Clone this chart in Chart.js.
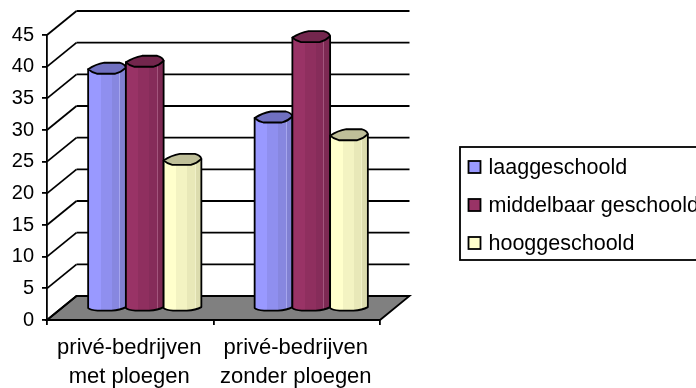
<!DOCTYPE html>
<html>
<head>
<meta charset="utf-8">
<style>
  html, body { margin: 0; padding: 0; background: #fff; overflow: hidden; }
  canvas { display: block; }
</style>
<script src="https://cdn.jsdelivr.net/npm/chart.js@4/dist/chart.umd.min.js"></script>
</head>
<body>
<canvas id="chart" width="696" height="388"></canvas>
<script>
const categories = [["privé-bedrijven", "met ploegen"], ["privé-bedrijven", "zonder ploegen"]];
const seriesNames = ["laaggeschoold", "middelbaar geschoold", "hooggeschoold"];
const laag = [37.7, 30];
const middelbaar = [38.8, 42.7];
const hoog = [23.3, 27.2];
const yMax = 45;
const yStep = 5;

// base, two shaded bands, highlight line, right edge, top cap
const shades = [
  ["#9999ff", "#8f8fef", "#8787e0", "#a6a6ee", "#8080d2", "#7070c0"],
  ["#993366", "#8f2f5f", "#862c5a", "#a3557d", "#7d2953", "#73264d"],
  ["#ffffcc", "#f3f3c2", "#e8e8b8", "#f0f0c8", "#dcdcae", "#bfbf99"],
];

const fontName = '"Liberation Sans", Arial, sans-serif';
const depthX = 29.5, depthY = 24;     // front plane to back wall
const midX = 14.5, midY = 12;         // front plane to the row of columns
const lineW = 1.8;

function line(ctx, x0, y0, x1, y1) {
  ctx.beginPath();
  ctx.moveTo(x0, y0);
  ctx.lineTo(x1, y1);
  ctx.stroke();
}

// back wall grid, side wall diagonals and grey floor
function drawWalls(chart) {
  const { ctx, scales: { x, y } } = chart;
  const left = x.left, right = x.right, floorY = y.getPixelForValue(0);
  ctx.save();
  ctx.strokeStyle = "#000";
  ctx.lineWidth = lineW;
  ctx.fillStyle = "#808080";
  ctx.beginPath();
  ctx.moveTo(left, floorY);
  ctx.lineTo(left + depthX, floorY - depthY);
  ctx.lineTo(right + depthX, floorY - depthY);
  ctx.lineTo(right, floorY);
  ctx.closePath();
  ctx.fill();
  ctx.stroke();
  y.ticks.forEach(t => {
    const py = y.getPixelForValue(t.value);
    line(ctx, left, py, left + depthX, py - depthY);
    line(ctx, left + depthX, py - depthY, right + depthX, py - depthY);
  });
  ctx.restore();
}

function capPath(ctx, x0, w, top) {
  ctx.beginPath();
  ctx.moveTo(x0, top);
  ctx.quadraticCurveTo(x0 + w * 0.2, top - 5, x0 + w * 0.43, top - 6.5);
  ctx.lineTo(x0 + w * 0.83, top - 6.5);
  ctx.quadraticCurveTo(x0 + w * 0.98, top - 5, x0 + w, top - 1.5);
  ctx.quadraticCurveTo(x0 + w * 0.88, top + 3, x0 + w * 0.72, top + 4.5);
  ctx.lineTo(x0 + w * 0.23, top + 4.5);
  ctx.quadraticCurveTo(x0 + w * 0.08, top + 3, x0, top);
  ctx.closePath();
}

// shaded cylinder over the plain bar element
function drawColumn(ctx, bar, colors) {
  const w = bar.width, x0 = bar.x - w / 2, top = bar.y, base = bar.base;
  ctx.save();
  ctx.beginPath();
  ctx.moveTo(x0, top);
  ctx.lineTo(x0, base + 1);
  ctx.quadraticCurveTo(x0 + w * 0.06, base + 3, x0 + w * 0.25, base + 3.5);
  ctx.lineTo(x0 + w * 0.62, base + 3.5);
  ctx.quadraticCurveTo(x0 + w * 0.85, base + 3, x0 + w, base);
  ctx.lineTo(x0 + w, top - 1.5);
  ctx.closePath();
  const g = ctx.createLinearGradient(x0, 0, x0 + w, 0);
  const stops = [[0, 0], [0.33, 0], [0.33, 1], [0.62, 1], [0.62, 2], [0.82, 2],
                 [0.82, 3], [0.85, 3], [0.85, 4], [1, 4]];
  stops.forEach(s => g.addColorStop(s[0], colors[s[1]]));
  ctx.fillStyle = g;
  ctx.fill();
  ctx.strokeStyle = "#000";
  ctx.lineWidth = lineW;
  ctx.lineJoin = "round";
  ctx.stroke();
  capPath(ctx, x0, w, top);
  ctx.fillStyle = colors[5];
  ctx.fill();
  ctx.stroke();
  ctx.restore();
}

function drawLegend(chart) {
  const ctx = chart.ctx;
  ctx.save();
  ctx.strokeStyle = "#000";
  ctx.lineWidth = lineW;
  ctx.strokeRect(460, 147, 260, 113);
  ctx.font = "21.5px " + fontName;
  ctx.textBaseline = "middle";
  chart.data.datasets.forEach((ds, i) => {
    const cy = 167 + i * 38;
    ctx.fillStyle = shades[i][0];
    ctx.fillRect(468.5, cy - 6, 12, 12);
    ctx.strokeRect(468.5, cy - 6, 12, 12);
    ctx.fillStyle = "#000";
    ctx.fillText(ds.label, 488.5, cy + 1);
  });
  ctx.restore();
}

const columnsPlugin = {
  id: "columns3d",
  beforeDraw: drawWalls,
  // columns go left to right so each one overlaps the previous cap
  afterDatasetsDraw(chart) {
    const ctx = chart.ctx;
    ctx.save();
    ctx.translate(midX, -midY);
    categories.forEach((_, c) => {
      chart.data.datasets.forEach((_, i) => {
        drawColumn(ctx, chart.getDatasetMeta(i).data[c], shades[i]);
      });
    });
    ctx.restore();
  },
  afterDraw: drawLegend,
};

new Chart(document.getElementById("chart"), {
  type: "bar",
  data: {
    labels: categories,
    datasets: [laag, middelbaar, hoog].map((values, i) => ({
      label: seriesNames[i],
      data: values,
      backgroundColor: "transparent",
    })),
  },
  plugins: [columnsPlugin],
  options: {
    responsive: false,
    animation: false,
    layout: { padding: { top: 35, right: 316, left: 0, bottom: 0 } },
    datasets: { bar: { barPercentage: 1, categoryPercentage: 0.68 } },
    plugins: { legend: { display: false }, tooltip: { enabled: false } },
    scales: {
      x: {
        afterFit(scale) { scale.height = 68; },
        border: { color: "#000", width: lineW },
        grid: { drawOnChartArea: false, color: "#000", lineWidth: lineW, tickLength: 5, offset: true },
        ticks: {
          color: "#000",
          padding: 8,
          labelOffset: -1,
          autoSkip: false,
          maxRotation: 0,
          font: { family: fontName, size: 22, lineHeight: 1.34 },
        },
      },
      y: {
        min: 0,
        max: yMax,
        afterFit(scale) { scale.width = 47; },
        border: { color: "#000", width: lineW },
        grid: { drawOnChartArea: false, color: "#000", lineWidth: lineW, tickLength: 5 },
        ticks: {
          stepSize: yStep,
          color: "#000",
          padding: 8,
          font: { family: fontName, size: 20 },
        },
      },
    },
  },
});
</script>
</body>
</html>
